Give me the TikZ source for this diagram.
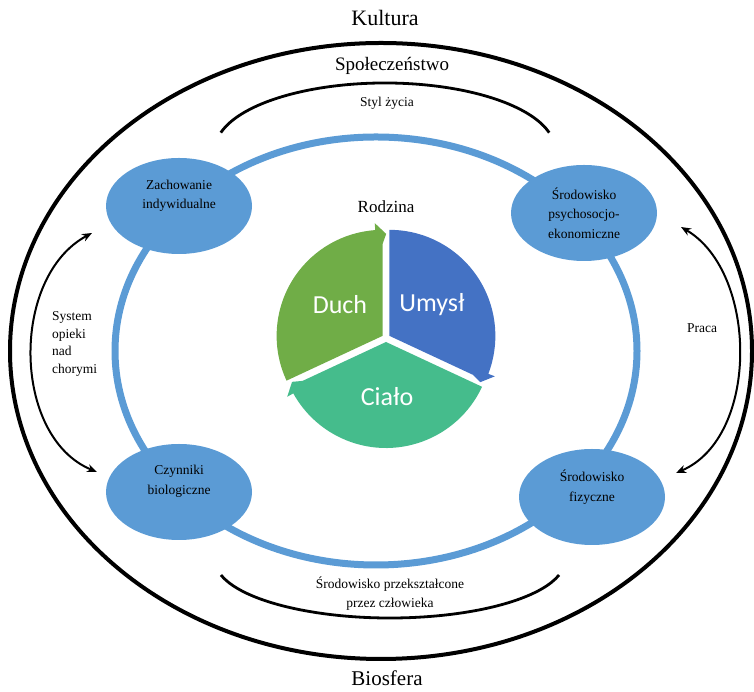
\documentclass[tikz,border=0pt]{standalone}
\usepackage{fontspec}
\setmainfont{Liberation Serif}
\newfontfamily\piefont{Carlito}
\usetikzlibrary{arrows.meta,shapes.geometric}
\definecolor{ringblue}{RGB}{91,155,213}
\definecolor{umyslblue}{RGB}{68,114,196}
\definecolor{duchgreen}{RGB}{112,173,71}
\definecolor{cialogreen}{RGB}{69,188,140}

% one segment of the cycle: colour, start angle, end angle, shift direction
\newcommand{\piesector}[4]{%
  \fill [#1, shift={(#4:4)}] (0,0) -- (#2:106)
    arc [start angle=#2, end angle={#3+4}, radius=106]
    -- ({#3+4}:113) -- ({#3-2}:102) -- (#3:92) -- cycle;}

\begin{document}
\begin{tikzpicture}[x=1pt,y=1pt,
    bubble/.style={ellipse, fill=ringblue, minimum width=146pt, minimum height=96pt,
      inner sep=0pt, align=center, font=\fontsize{13.5}{19.5}\selectfont},
    smalltext/.style={inner sep=0pt, align=center, font=\fontsize{13.5}{17.5}\selectfont},
    pielabel/.style={inner sep=0pt, text=white, font=\piefont\fontsize{26}{28}\selectfont},
    bothways/.style={black, line width=2pt,
      {Stealth[length=10pt,width=8pt]}-{Stealth[length=10pt,width=8pt]}}]
    \useasboundingbox (0,0) rectangle (754,692);

    \draw [black, line width=4pt] (381,341) ellipse [x radius=371, y radius=308];
    \draw [black, line width=2.8pt] (385,542) ++(165:170 and 67)
      arc [start angle=165, end angle=15, x radius=170, y radius=67];
    \draw [black, line width=2.8pt] (390,132) ++(195:175 and 58)
      arc [start angle=195, end angle=345, x radius=175, y radius=58];
    \draw [ringblue, line width=7pt] (376,341) ellipse [x radius=261, y radius=214];

    \node (kultura) at (385,674) [inner sep=0pt, font=\fontsize{22}{24}\selectfont] {Kultura};
    \node (spol) at (392,626) [inner sep=0pt, font=\fontsize{19}{21}\selectfont] {Społeczeństwo};
    \node (biosfera) at (387,14) [inner sep=0pt, font=\fontsize{21}{23}\selectfont] {Biosfera};
    \node (styl) at (387,589) [smalltext] {Styl życia};
    \node (przeksz) at (390,98) [smalltext, font=\fontsize{13.5}{19}\selectfont]
      {Środowisko przekształcone\\przez człowieka};

    \node (zach) at (179,486) [bubble] {Zachowanie\\indywidualne\\[4pt]};
    \node (psycho) at (584,479) [bubble] {Środowisko\\psychosocjo-\\ekonomiczne};
    \node (biol) at (179,200) [bubble] {Czynniki\\biologiczne\\[5pt]};
    \node (fiz) at (592,195) [bubble] {Środowisko\\fizyczne\\[3pt]};

    \begin{scope}[shift={(386,354)}]
      \piesector{umyslblue}{90}{-25}{32.5}
      \piesector{cialogreen}{-25}{-155}{-90}
      \piesector{duchgreen}{205}{90}{147.5}
    \end{scope}
    \node (rodzina) at (386,485) [inner sep=0pt, font=\fontsize{17}{19}\selectfont] {Rodzina};
    \node (duch) at (340,387) [pielabel] {Duch};
    \node (umysl) at (432,387) [pielabel] {Umysł};
    \node (cialo) at (387,295) [pielabel] {Ciało};

    \coordinate (opiekaA) at (92,459);
    \coordinate (opiekaB) at (97,220);
    \coordinate (pracaA) at (681,465);
    \coordinate (pracaB) at (676,219);
    \draw [bothways] (opiekaA) .. controls (10,415) and (12,255) .. (opiekaB);
    \draw [bothways] (pracaA) .. controls (758,420) and (760,255) .. (pracaB);
    \node (opieka) at (52,348) [smalltext, anchor=west, align=left] {System\\opieki\\nad\\chorymi};
    \node (praca) at (702,364) [smalltext] {Praca};
\end{tikzpicture}
\end{document}
